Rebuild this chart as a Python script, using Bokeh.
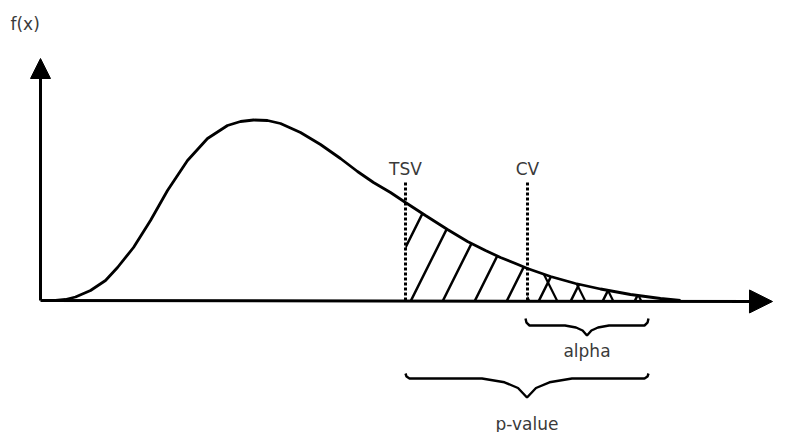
import numpy as np
from bokeh.plotting import figure
from bokeh.models import Range1d, Arrow, NormalHead
from bokeh.core.properties import value
from bokeh.embed import file_html
from bokeh.resources import INLINE

curve_x = [15, 25, 35, 50, 65, 77, 93, 110, 127, 147, 167, 187, 200, 213, 227, 240,
           260, 280, 300, 317, 333, 350, 365, 385, 407, 427, 445, 460, 475, 487,
           510, 535, 560, 590, 620, 640]
curve_y = [0, 1, 3.5, 10, 20, 33, 53, 80, 110, 140, 162, 175, 179, 180.5, 180, 177,
           168, 156, 142, 129, 118, 108, 98, 85, 71, 59, 50, 43, 37, 32,
           24, 17, 11.5, 6, 2, 0]
marker_names = ["TSV", "CV"]
marker_x = [365, 487]
marker_top = 120
brace_names = ["alpha", "p-value"]
brace_start = [485, 365]
brace_end = [608, 608]

FONT = value("DejaVu Sans")
TXT = "#3a3a3a"

p = figure(width=802, height=432, output_backend="svg", toolbar_location=None,
           x_range=Range1d(-40, 762), y_range=Range1d(-132, 300),
           x_axis_type=None, y_axis_type=None, min_border=0,
           outline_line_color=None, background_fill_color="white",
           border_fill_color="white")
p.grid.visible = False

cx = np.array(curve_x, dtype=float)
cy = np.array(curve_y, dtype=float)

def region(x_from):
    m = cx > x_from
    xs = np.concatenate([[x_from, x_from], cx[m], [x_from]])
    ys = np.concatenate([[0, np.interp(x_from, cx, cy)], cy[m], [0]])
    return xs, ys

# hatched p-value region and cross-hatched alpha region
xs, ys = region(marker_x[0])
p.patch(xs, ys, fill_alpha=0, line_alpha=0, hatch_pattern="/",
        hatch_color="black", hatch_weight=2.5, hatch_scale=64)
xs, ys = region(marker_x[1])
p.patch(xs, ys, fill_alpha=0, line_alpha=0, hatch_pattern="\\",
        hatch_color="black", hatch_weight=2.2, hatch_scale=56)

# density curve
p.line(curve_x, curve_y, line_color="black", line_width=2.8)

# dotted marker lines and labels
p.segment(x0=marker_x, y0=[0] * len(marker_x), x1=marker_x, y1=[marker_top] * len(marker_x),
          line_color="black", line_width=3, line_dash="3 2")
p.text(x=marker_x, y=[132] * len(marker_x), text=marker_names, text_font=FONT,
       text_font_size="17px", text_color=TXT, text_align="center",
       text_baseline="alphabetic")

# axes with arrow heads
p.add_layout(Arrow(end=NormalHead(size=20, fill_color="black", line_color="black"),
                   x_start=0, y_start=0, x_end=0, y_end=242,
                   line_color="black", line_width=3))
p.add_layout(Arrow(end=NormalHead(size=23, fill_color="black", line_color="black"),
                   x_start=0, y_start=0, x_end=732, y_end=-1,
                   line_color="black", line_width=3))
p.text(x=[-30], y=[277], text=["f(x)"], text_font=FONT, text_font_size="17px",
       text_color=TXT, text_align="left", text_baseline="alphabetic")

# braces under the axis
def brace(x0, x1, y, hook, depth, hw):
    mid = (x0 + x1) / 2.0
    bx = [x0, x0 + 1, x0 + 4, mid - hw, mid - 0.5 * hw, mid - 0.2 * hw, mid,
          mid + 0.2 * hw, mid + 0.5 * hw, mid + hw, x1 - 4, x1 - 1, x1]
    by = [y + hook, y + hook * 0.4, y, y, y - 0.2 * depth, y - 0.5 * depth, y - depth,
          y - 0.5 * depth, y - 0.2 * depth, y, y, y + hook * 0.4, y + hook]
    return bx, by, mid

levels = [(-25, 7, 10, 22, -50), (-78, 5, 19, 45, -123)]
for name, a, b, (lvl, hook, depth, hw, ty) in zip(brace_names, brace_start, brace_end, levels):
    bx, by, mid = brace(a, b, lvl, hook, depth, hw)
    p.line(bx, by, line_color="black", line_width=2.4)
    p.text(x=[mid], y=[ty], text=[name], text_font=FONT, text_font_size="17px",
           text_color=TXT, text_align="center", text_baseline="alphabetic")

open("out.html", "w").write(file_html(p, INLINE))
